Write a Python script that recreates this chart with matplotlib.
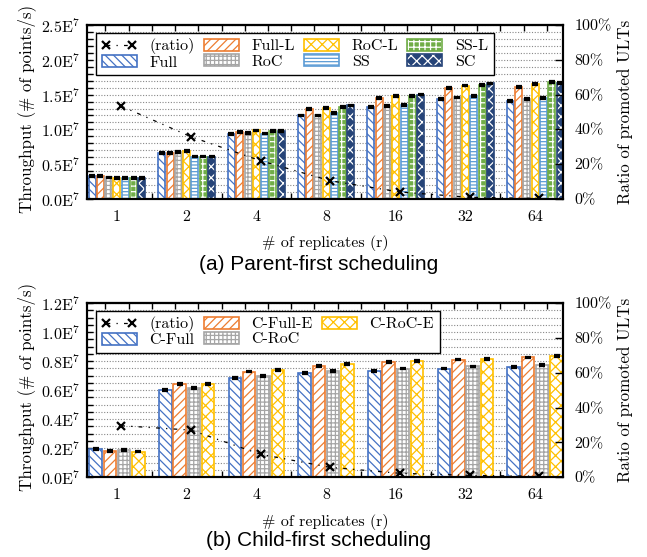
import numpy as np
import matplotlib
matplotlib.use("Agg")
import matplotlib.pyplot as plt
from matplotlib.patches import Patch
from matplotlib.lines import Line2D
from matplotlib.legend_handler import HandlerTuple

plt.rcParams['font.family'] = ['cmr10', 'DejaVu Serif']
plt.rcParams['mathtext.fontset'] = 'cm'
plt.rcParams['axes.formatter.use_mathtext'] = True
plt.rcParams['hatch.linewidth'] = 0.9

# ---------------- data ----------------
replicates = ['1', '2', '4', '8', '16', '32', '64']

# (a) Parent-first scheduling, throughput in units of 1E7 points/s
top_series = ['Full', 'Full-L', 'RoC', 'RoC-L', 'SS', 'SS-L', 'SC']
full   = [0.33, 0.66, 0.93, 1.20, 1.32, 1.44, 1.41]
full_l = [0.33, 0.66, 0.96, 1.29, 1.45, 1.59, 1.61]
roc    = [0.31, 0.67, 0.945, 1.20, 1.335, 1.46, 1.44]
roc_l  = [0.30, 0.685, 0.985, 1.31, 1.485, 1.63, 1.655]
ss     = [0.30, 0.61, 0.94, 1.24, 1.35, 1.475, 1.455]
ss_l   = [0.30, 0.61, 0.975, 1.325, 1.485, 1.64, 1.68]
sc     = [0.30, 0.61, 0.975, 1.345, 1.50, 1.66, 1.665]
ratio_top = [53.4, 35.8, 22.0, 10.5, 4.0, 1.0, 0.3]

# (b) Child-first scheduling
bot_series = ['C-Full', 'C-Full-E', 'C-RoC', 'C-RoC-E']
c_full   = [0.195, 0.60, 0.684, 0.719, 0.733, 0.749, 0.758]
c_full_e = [0.18, 0.64, 0.728, 0.767, 0.793, 0.811, 0.825]
c_roc    = [0.19, 0.615, 0.696, 0.733, 0.749, 0.763, 0.774]
c_roc_e  = [0.177, 0.643, 0.74, 0.779, 0.801, 0.815, 0.834]
ratio_bot = [29.6, 27.1, 13.2, 5.7, 2.3, 1.1, 0.6]

top_ticks = [0.0, 0.5, 1.0, 1.5, 2.0, 2.5]
bot_ticks = [0.0, 0.2, 0.4, 0.6, 0.8, 1.0, 1.2]
pct_ticks = [0, 20, 40, 60, 80, 100]

# ---------------- styles ----------------
styles = {
    'Full':     dict(color='#4472C4', hatch='\\\\\\\\', solid=False),
    'Full-L':   dict(color='#ED7D31', hatch='////', solid=False),
    'RoC':      dict(color='#A5A5A5', hatch='++++', solid=False),
    'RoC-L':    dict(color='#FFC000', hatch='xxx', solid=False),
    'SS':       dict(color='#5B9BD5', hatch='-----', solid=False),
    'SS-L':     dict(color='#70AD47', hatch='+++', solid=True),
    'SC':       dict(color='#264478', hatch='xxx', solid=True),
    'C-Full':   dict(color='#4472C4', hatch='\\\\\\\\', solid=False),
    'C-Full-E': dict(color='#ED7D31', hatch='////', solid=False),
    'C-RoC':    dict(color='#A5A5A5', hatch='++++', solid=False),
    'C-RoC-E':  dict(color='#FFC000', hatch='xxx', solid=False),
}

W, H = 647, 557
FS = 11.5
fig = plt.figure(figsize=(W / 100, H / 100), dpi=100)


def draw_bars(ax, x, h, w, st):
    if st['solid']:
        ax.bar(x, h, w, facecolor=st['color'], edgecolor='white', hatch=st['hatch'],
               linewidth=0, zorder=2)
        ax.bar(x, h, w, fill=False, edgecolor=st['color'], linewidth=1.2, zorder=2.1)
    else:
        ax.bar(x, h, w, facecolor='white', edgecolor=st['color'], hatch=st['hatch'],
               linewidth=1.2, zorder=2)
    ax.errorbar(x, h, yerr=np.full(len(h), 0.006 * ax.get_ylim()[1] / 1.2),
                fmt='none', ecolor='black', elinewidth=1.0, capsize=2.2, capthick=1.6, zorder=3)


def legend_handle(st):
    if st['solid']:
        return (Patch(facecolor=st['color'], edgecolor='white', hatch=st['hatch'], linewidth=0),
                Patch(fill=False, edgecolor=st['color'], linewidth=1.2))
    return Patch(facecolor='white', edgecolor=st['color'], hatch=st['hatch'], linewidth=1.2)


def make_panel(rect, names, data, ratio, ymax, yticks, minor_step, step, width,
               legend_ncol, legend_anchor):
    ax = fig.add_axes(rect)
    ax.set_xlim(-0.43, 6.40)
    ax.set_ylim(0, ymax)
    x = np.arange(len(replicates))
    n = len(names)
    for j, (nm, vals) in enumerate(zip(names, data)):
        draw_bars(ax, x + (j - (n - 1) / 2) * step, np.array(vals), width, styles[nm])

    # y axis
    ax.set_yticks(yticks)
    ax.set_yticklabels([r'%.1fE$^{7}$' % t for t in yticks], fontsize=FS)
    ax.set_yticks(np.arange(0, ymax + 1e-9, minor_step), minor=True)
    ax.yaxis.grid(True, which='both', linestyle=(0, (1, 1.5)), color='#888888', linewidth=0.8)
    ax.set_axisbelow(True)
    ax.tick_params(axis='y', which='both', direction='in', length=4, width=1.0, right=False, pad=5)
    ax.set_ylabel('Throughput (# of points/s)', fontsize=12.2, va='center')
    ax.yaxis.set_label_coords(-0.128, 0.52)

    # x axis
    ax.set_xticks(x)
    ax.set_xticklabels(replicates, fontsize=FS)
    ax.set_xticks(np.arange(0.5, 6.4, 1.0), minor=True)
    ax.tick_params(axis='x', which='major', length=0, pad=8)
    ax.tick_params(axis='x', which='minor', direction='in', length=4, width=1.0, top=False)
    ax.set_xlabel('# of replicates (r)', fontsize=FS, va='center')
    ax.xaxis.set_label_coords(0.5, -0.255)

    sec = ax.secondary_xaxis('top')
    sec.set_xticks(np.arange(-1 / 6, 6.4, 1 / 3))
    sec.set_xticklabels([])
    sec.tick_params(direction='in', length=4, width=1.0)
    sec.spines['top'].set_linewidth(1.5)

    for sp in ax.spines.values():
        sp.set_linewidth(1.5)

    # ratio
    ax2 = ax.twinx()
    ax2.set_ylim(0, 100)
    ln, = ax2.plot(x + 0.06, ratio, color='black', linestyle=(0, (3, 5, 1, 5)), linewidth=0.9,
                   marker='x', markersize=6, markeredgewidth=1.6, zorder=4)
    ax2.set_yticks(pct_ticks)
    ax2.set_yticklabels(['%d%%' % p for p in pct_ticks], fontsize=FS)
    ax2.tick_params(axis='y', direction='in', length=6, width=1.0, pad=8)
    ax2.set_ylabel('Ratio of promoted ULTs', fontsize=12.2, va='center')
    ax2.yaxis.set_label_coords(1.13, 0.5)
    for sp in ax2.spines.values():
        sp.set_linewidth(1.5)

    handles = [ln] + [legend_handle(styles[nm]) for nm in names]
    labels = ['(ratio)'] + names
    leg = ax2.legend(handles, labels, ncol=legend_ncol, loc='upper left',
                     bbox_to_anchor=legend_anchor, borderaxespad=0, fontsize=11.5,
                     frameon=True, fancybox=False, framealpha=1, edgecolor='black',
                     handlelength=2.2, handleheight=0.75, handletextpad=0.8,
                     columnspacing=0.55, labelspacing=0.05, borderpad=0.35, numpoints=2,
                     handler_map={tuple: HandlerTuple(ndivide=1, pad=0)})
    leg.get_frame().set_linewidth(1.0)
    leg.set_zorder(10)
    return ax


# panel (a)
make_panel([87 / W, 1 - 199 / H, 476 / W, 174 / H], top_series,
           [full, full_l, roc, roc_l, ss, ss_l, sc], ratio_top,
           2.5, top_ticks, 0.1, 0.119, 0.10, 4, (0.019, 0.955))
fig.text(0.492, 1 - 265 / H, '(a) Parent-first scheduling', ha='center', va='center',
         fontsize=15, family='Liberation Sans')

# panel (b)
make_panel([87 / W, 1 - 477.3 / H, 476 / W, 174.3 / H], bot_series,
           [c_full, c_full_e, c_roc, c_roc_e], ratio_bot,
           1.2, bot_ticks, 0.05, 0.205, 0.18, 3, (0.019, 0.956))
fig.text(0.492, 1 - 541 / H, '(b) Child-first scheduling', ha='center', va='center',
         fontsize=15, family='Liberation Sans')

fig.savefig('out.png', dpi=100)
